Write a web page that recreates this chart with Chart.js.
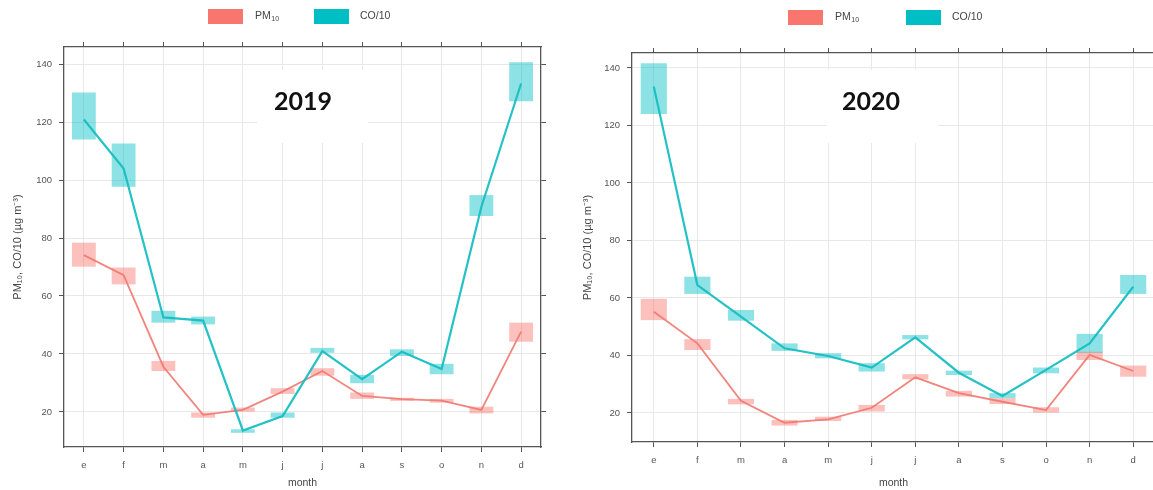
<!DOCTYPE html>
<html>
<head>
<meta charset="utf-8">
<script src="https://cdn.jsdelivr.net/npm/chart.js@4/dist/chart.umd.min.js"></script>
<style>
  html, body { margin: 0; padding: 0; background: #fff; overflow: hidden; width: 1153px; height: 490px; }
  .panel { position: absolute; top: 0; height: 490px; }
  #p2019 { left: 0; width: 560px; }
  #p2020 { left: 570px; width: 590px; }
</style>
</head>
<body>
<div class="panel" id="p2019"><canvas id="c2019"></canvas></div>
<div class="panel" id="p2020"><canvas id="c2020"></canvas></div>
<script>
// Month initials (Spanish): enero ... diciembre
const months = ['e', 'f', 'm', 'a', 'm', 'j', 'j', 'a', 's', 'o', 'n', 'd'];
const yTickValues = [20, 40, 60, 80, 100, 120, 140];

// 2019 monthly means and their intervals
const pm2019     = [74.1, 67.2, 35.6, 19.0, 20.7, 27.0, 34.1, 25.5, 24.4, 23.9, 20.7, 47.7];
const pm2019Low  = [70.1, 64.0, 34.1, 18.0, 20.1, 26.2, 32.5, 24.5, 23.8, 23.2, 19.5, 44.2];
const pm2019High = [78.4, 69.8, 37.6, 19.8, 21.5, 28.2, 35.1, 26.7, 24.9, 24.5, 21.8, 50.8];
const co2019     = [120.9, 104.0, 52.6, 51.5, 13.6, 18.6, 41.0, 31.3, 40.8, 34.8, 90.8, 133.3];
const co2019Low  = [114.0, 97.7, 50.8, 50.2, 12.8, 18.0, 40.4, 29.9, 39.3, 33.0, 87.6, 127.2];
const co2019High = [130.2, 112.6, 54.9, 52.9, 14.0, 19.8, 42.1, 32.8, 41.6, 36.6, 94.8, 140.6];

// 2020 monthly means and their intervals
const pm2020     = [55.2, 44.2, 24.2, 16.6, 17.8, 21.8, 32.4, 26.9, 23.9, 21.0, 40.2, 34.6];
const pm2020Low  = [52.3, 41.9, 23.0, 15.6, 17.2, 20.5, 31.7, 25.7, 23.1, 20.1, 38.4, 32.6];
const pm2020High = [59.7, 45.7, 24.9, 17.6, 18.7, 22.8, 33.5, 27.7, 25.1, 22.0, 41.3, 36.5];
const co2020     = [133.5, 64.5, 53.5, 42.5, 39.8, 35.8, 46.3, 34.0, 25.9, 35.0, 44.2, 63.9];
const co2020Low  = [124.0, 61.4, 52.1, 41.6, 39.0, 34.4, 45.6, 33.2, 25.1, 33.8, 40.8, 61.4];
const co2020High = [141.6, 67.4, 55.8, 44.2, 40.8, 37.3, 47.1, 34.7, 26.9, 35.8, 47.5, 68.0];

const PM_COLOR = '#F8766D';
const CO_COLOR = '#00BFC4';
const PM_BOX = 'rgba(248,118,109,0.45)';
const CO_BOX = 'rgba(0,191,196,0.45)';
const PM_LINE = 'rgba(240,120,112,0.9)';
const CO_LINE = 'rgba(24,190,194,0.95)';
const FRAME = '#555';
const GRID = '#e8e8e8';
const FONT = 'Liberation Sans, Arial, sans-serif';

const zip = (lo, hi) => lo.map((v, i) => [v, hi[i]]);

// Legend drawn above the plot, with a subscripted "10"
const legendPlugin = {
  id: 'miniLegend',
  afterDraw(chart, args, opts) {
    const ctx = chart.ctx;
    ctx.save();
    const y = opts.y, h = 15;
    ctx.fillStyle = PM_COLOR;
    ctx.fillRect(opts.x1, y, 35, h);
    ctx.fillStyle = CO_COLOR;
    ctx.fillRect(opts.x2, y, 35, h);
    ctx.fillStyle = '#444';
    ctx.textBaseline = 'middle';
    ctx.font = '10.5px ' + FONT;
    const tx1 = opts.x1 + 47;
    ctx.fillText('PM', tx1, y + h / 2);
    const w = ctx.measureText('PM').width;
    ctx.font = '7px ' + FONT;
    ctx.fillText('10', tx1 + w + 0.5, y + h / 2 + 3);
    ctx.font = '10.5px ' + FONT;
    ctx.fillText('CO/10', opts.x2 + 46, y + h / 2);
    ctx.restore();
  }
};

// Year label on a white patch inside the plot
const yearPlugin = {
  id: 'yearLabel',
  beforeDatasetsDraw(chart, args, opts) {
    const ctx = chart.ctx;
    ctx.save();
    ctx.fillStyle = '#fff';
    ctx.fillRect(opts.bx, opts.by, opts.bw, opts.bh);
    ctx.fillStyle = '#111';
    ctx.font = 'bold 25px Lato, ' + FONT;
    ctx.textAlign = 'center';
    ctx.textBaseline = 'middle';
    ctx.fillText(opts.text, opts.tx, opts.ty);
    ctx.restore();
  }
};

function makePanel(id, p) {
  const W = p.width;
  new Chart(document.getElementById(id), {
    type: 'bar',
    data: {
      labels: months,
      datasets: [
        { type: 'line', label: 'CO/10', data: p.co, borderColor: CO_LINE, borderWidth: 2.2,
          pointRadius: 0, tension: 0, fill: false, order: 0 },
        { type: 'line', label: 'PM10', data: p.pm, borderColor: PM_LINE, borderWidth: 1.8,
          pointRadius: 0, tension: 0, fill: false, order: 1 },
        { label: 'CO/10 range', data: zip(p.coLow, p.coHigh), backgroundColor: CO_BOX,
          borderWidth: 0, grouped: false, barPercentage: 0.6, categoryPercentage: 1, order: 3 },
        { label: 'PM10 range', data: zip(p.pmLow, p.pmHigh), backgroundColor: PM_BOX,
          borderWidth: 0, grouped: false, barPercentage: 0.6, categoryPercentage: 1, order: 2 }
      ]
    },
    options: {
      responsive: true,
      maintainAspectRatio: false,
      animation: false,
      events: [],
      layout: { padding: 0 },
      plugins: {
        legend: { display: false },
        tooltip: { enabled: false },
        miniLegend: p.legend,
        yearLabel: p.year
      },
      scales: {
        x: {
          type: 'category', position: 'bottom', offset: true,
          grid: { offset: false, color: GRID, tickColor: FRAME, tickLength: 5, lineWidth: 1 },
          border: { color: FRAME, width: 1.3 },
          ticks: { color: '#555', font: { size: 9.5, family: FONT }, padding: p.xPad, maxRotation: 0, autoSkip: false },
          title: { display: true, text: 'month', color: '#444', font: { size: 10.5, family: FONT }, padding: { top: 0, bottom: 1 } },
          afterFit: s => { s.height = 490 - p.area.bottom; }
        },
        xTop: {
          type: 'category', position: 'top', offset: true, labels: months,
          grid: { offset: false, drawOnChartArea: false, tickColor: FRAME, tickLength: 5 },
          border: { color: FRAME, width: 1.3 },
          ticks: { display: false },
          afterFit: s => { s.height = p.area.top; }
        },
        y: {
          type: 'linear', position: 'left', min: p.yMin, max: p.yMax,
          afterBuildTicks: s => { s.ticks = yTickValues.map(v => ({ value: v })); },
          grid: { color: GRID, tickColor: FRAME, tickLength: 5, lineWidth: 1 },
          border: { color: FRAME, width: 1.3 },
          ticks: { color: '#555', font: { size: 9.5, family: FONT }, padding: 7 },
          title: { display: true, text: 'PM₁₀, CO/10 (µg m⁻³)', color: '#444',
                   font: { size: 11, family: FONT }, padding: { top: 11.5, bottom: 0 } },
          afterFit: s => { s.width = p.area.left; }
        },
        y2: {
          type: 'linear', position: 'right', min: p.yMin, max: p.yMax,
          afterBuildTicks: s => { s.ticks = yTickValues.map(v => ({ value: v })); },
          grid: { drawOnChartArea: false, tickColor: FRAME, tickLength: 5 },
          border: { color: FRAME, width: 1.3 },
          ticks: { display: false },
          afterFit: s => { s.width = W - p.area.right; }
        }
      }
    },
    plugins: [legendPlugin, yearPlugin]
  });
}

makePanel('c2019', {
  width: 560,
  area: { left: 64, right: 541, top: 47, bottom: 447 },
  yMin: 7.9, yMax: 145.9, xPad: 8,
  pm: pm2019, pmLow: pm2019Low, pmHigh: pm2019High,
  co: co2019, coLow: co2019Low, coHigh: co2019High,
  legend: { x1: 208, x2: 314, y: 9 },
  year: { text: '2019', bx: 257, by: 70, bw: 111, bh: 73, tx: 303, ty: 102 }
});

makePanel('c2020', {
  width: 590,
  area: { left: 62, right: 585, top: 53, bottom: 442 },
  yMin: 9.9, yMax: 145.2, xPad: 8,
  pm: pm2020, pmLow: pm2020Low, pmHigh: pm2020High,
  co: co2020, coLow: co2020Low, coHigh: co2020High,
  legend: { x1: 218, x2: 336, y: 10 },
  year: { text: '2020', bx: 257, by: 70, bw: 111, bh: 73, tx: 301, ty: 102 }
});
</script>
</body>
</html>
